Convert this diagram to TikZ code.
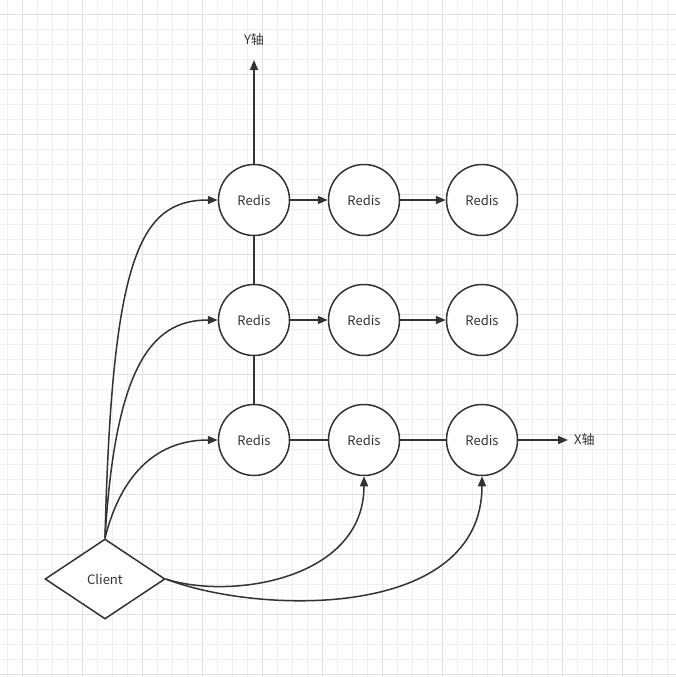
\documentclass[tikz,border=0pt]{standalone}
\usepackage{fontspec}
\setmainfont{Noto Sans CJK SC}
\usetikzlibrary{arrows.meta,shapes.geometric}
\definecolor{ink}{HTML}{333333}
\definecolor{gminor}{HTML}{F0F0F0}
\definecolor{gmajor}{HTML}{E0E0E0}
\tikzset{
  redis/.style={circle,draw=ink,line width=1.5pt,fill=white,minimum size=71pt,inner sep=0pt,text=ink,font=\fontsize{13pt}{15pt}\selectfont},
  client/.style={diamond,draw=ink,line width=1.5pt,fill=white,minimum width=120pt,minimum height=80pt,inner sep=0pt,text=ink,font=\fontsize{13pt}{15pt}\selectfont},
  lbl/.style={text=ink,font=\fontsize{13pt}{15pt}\selectfont,inner sep=0pt},
  conn/.style={draw=ink,line width=1.5pt},
  arr/.style={conn,-{Triangle[length=10pt,width=8pt]}},
}
\begin{document}
\begin{tikzpicture}[x=1pt,y=-1pt]
\useasboundingbox (0,0) rectangle (676,677);
\fill[white] (0,0) rectangle (676,677);
% grid
\foreach \x in {7.5,22.5,...,675} \draw[gminor,line width=1pt] (\x,0) -- (\x,677);
\foreach \y in {14.5,29.5,...,676} \draw[gminor,line width=1pt] (0,\y) -- (676,\y);
\foreach \x in {22.5,82.5,...,676} \draw[gmajor,line width=1pt] (\x,0) -- (\x,677);
\foreach \y in {14.5,74.5,...,676} \draw[gmajor,line width=1pt] (0,\y) -- (676,\y);
% nodes
\node[redis] (a1) at (254,200) {Redis};
\node[redis] (a2) at (364,200) {Redis};
\node[redis] (a3) at (482,200) {Redis};
\node[redis] (b1) at (254,320) {Redis};
\node[redis] (b2) at (364,320) {Redis};
\node[redis] (b3) at (482,320) {Redis};
\node[redis] (c1) at (254,440) {Redis};
\node[redis] (c2) at (364,440) {Redis};
\node[redis] (c3) at (482,440) {Redis};
\node[client] (cl) at (105,579) {Client};
\coordinate (ytip) at (254,60);
\coordinate (xtip) at (568,440);
\node[lbl] (ylab) at (254,40) {Y轴};
\node[lbl,anchor=west] (xlab) at (574,440) {X轴};
% axes
\draw[arr] (a1.north) -- (ytip);
\draw[arr] (c3.east) -- (xtip);
% horizontal
\draw[arr] (a1) -- (a2);
\draw[arr] (a2) -- (a3);
\draw[arr] (b1) -- (b2);
\draw[arr] (b2) -- (b3);
\draw[conn] (c1) -- (c2);
\draw[conn] (c2) -- (c3);
% vertical
\draw[conn] (a1) -- (b1);
\draw[conn] (b1) -- (c1);
% curves
\draw[arr] (cl.north) .. controls (112,255) and (140,200) .. (a1.west);
\draw[arr] (cl.north) .. controls (115,370) and (150,320) .. (b1.west);
\draw[arr] (cl.north) .. controls (122,470) and (160,440) .. (c1.west);
\draw[arr] (cl.east) .. controls (230,600) and (364,580) .. (c2.south);
\draw[arr] (cl.east) .. controls (260,615) and (482,620) .. (c3.south);
\end{tikzpicture}
\end{document}
